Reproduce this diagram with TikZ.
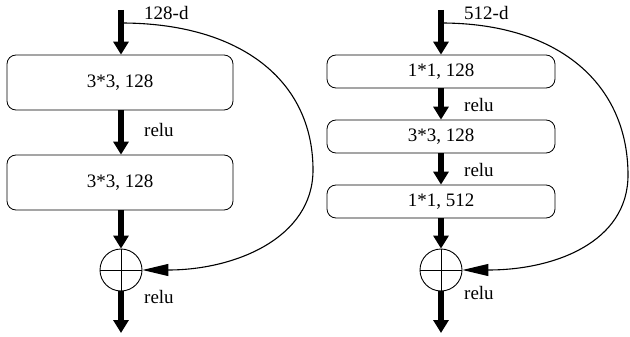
\documentclass[tikz,border=0pt]{standalone}
\usepackage{fontspec}
\setmainfont{Liberation Serif}
\usetikzlibrary{arrows.meta}
\begin{document}
\begin{tikzpicture}[x=1pt,y=-1pt,
  blk/.style={draw,rounded corners=9pt,line width=0.8pt,inner sep=0pt},
  thk/.style={line width=6.5pt,-{Triangle[width=15pt,length=13pt]}},
  skip/.style={line width=1.1pt,-{Triangle[width=12pt,length=26pt]}},
  sumc/.style={draw,circle,line width=0.9pt,minimum size=42pt,inner sep=0pt},
  lbl/.style={font=\fontsize{19}{21}\selectfont,inner sep=0pt}]
\useasboundingbox (0,0) rectangle (630,337);
% left panel
\node[blk,minimum width=226pt,minimum height=55pt] (a1) at (120,82.5) {};
\node[lbl] at (a1.center) {3*3, 128};
\node[blk,minimum width=226pt,minimum height=55pt] (a2) at (120,182.5) {};
\node[lbl] at (a2.center) {3*3, 128};
\node[sumc] (ca) at (121,270) {};
\draw[line width=0.9pt] (ca.north) -- (ca.south) (ca.west) -- (ca.east);
\coordinate (ta) at (121,10);
\coordinate (sa) at (121,23);
\coordinate (ba) at (121,333);
\draw[thk] (ta) -- (a1.north -| ta);
\draw[thk] (a1.south -| ta) -- (a2.north -| ta);
\draw[thk] (a2.south -| ta) -- (ca.north);
\draw[thk] (ca.south) -- (ba);
\draw[skip] (sa) .. controls (240,23) and (313,80) .. (313,170)
  .. controls (313,238) and (235,270) .. (ca.east);
\node[lbl,anchor=west] at (144,13) {128-d};
\node[lbl,anchor=west] at (144,130) {relu};
\node[lbl,anchor=west] at (144,297) {relu};
% right panel
\node[blk,minimum width=228pt,minimum height=33pt] (b1) at (441,71.5) {};
\node[lbl] at (b1.center) {1*1, 128};
\node[blk,minimum width=228pt,minimum height=33pt] (b2) at (441,136.5) {};
\node[lbl] at (b2.center) {3*3, 128};
\node[blk,minimum width=228pt,minimum height=33pt] (b3) at (441,201.5) {};
\node[lbl] at (b3.center) {1*1, 512};
\node[sumc] (cb) at (441,270) {};
\draw[line width=0.9pt] (cb.north) -- (cb.south) (cb.west) -- (cb.east);
\coordinate (tb) at (441,10);
\coordinate (sb) at (441,23);
\coordinate (bb) at (441,333);
\draw[thk] (tb) -- (b1.north);
\draw[thk] (b1.south) -- (b2.north);
\draw[thk] (b2.south) -- (b3.north);
\draw[thk] (b3.south) -- (cb.north);
\draw[thk] (cb.south) -- (bb);
\draw[skip] (sb) .. controls (560,23) and (628,85) .. (628,175)
  .. controls (628,242) and (555,270) .. (cb.east);
\node[lbl,anchor=west] at (464,13) {512-d};
\node[lbl,anchor=west] at (464,105) {relu};
\node[lbl,anchor=west] at (464,170) {relu};
\node[lbl,anchor=west] at (464,293) {relu};
\end{tikzpicture}
\end{document}
